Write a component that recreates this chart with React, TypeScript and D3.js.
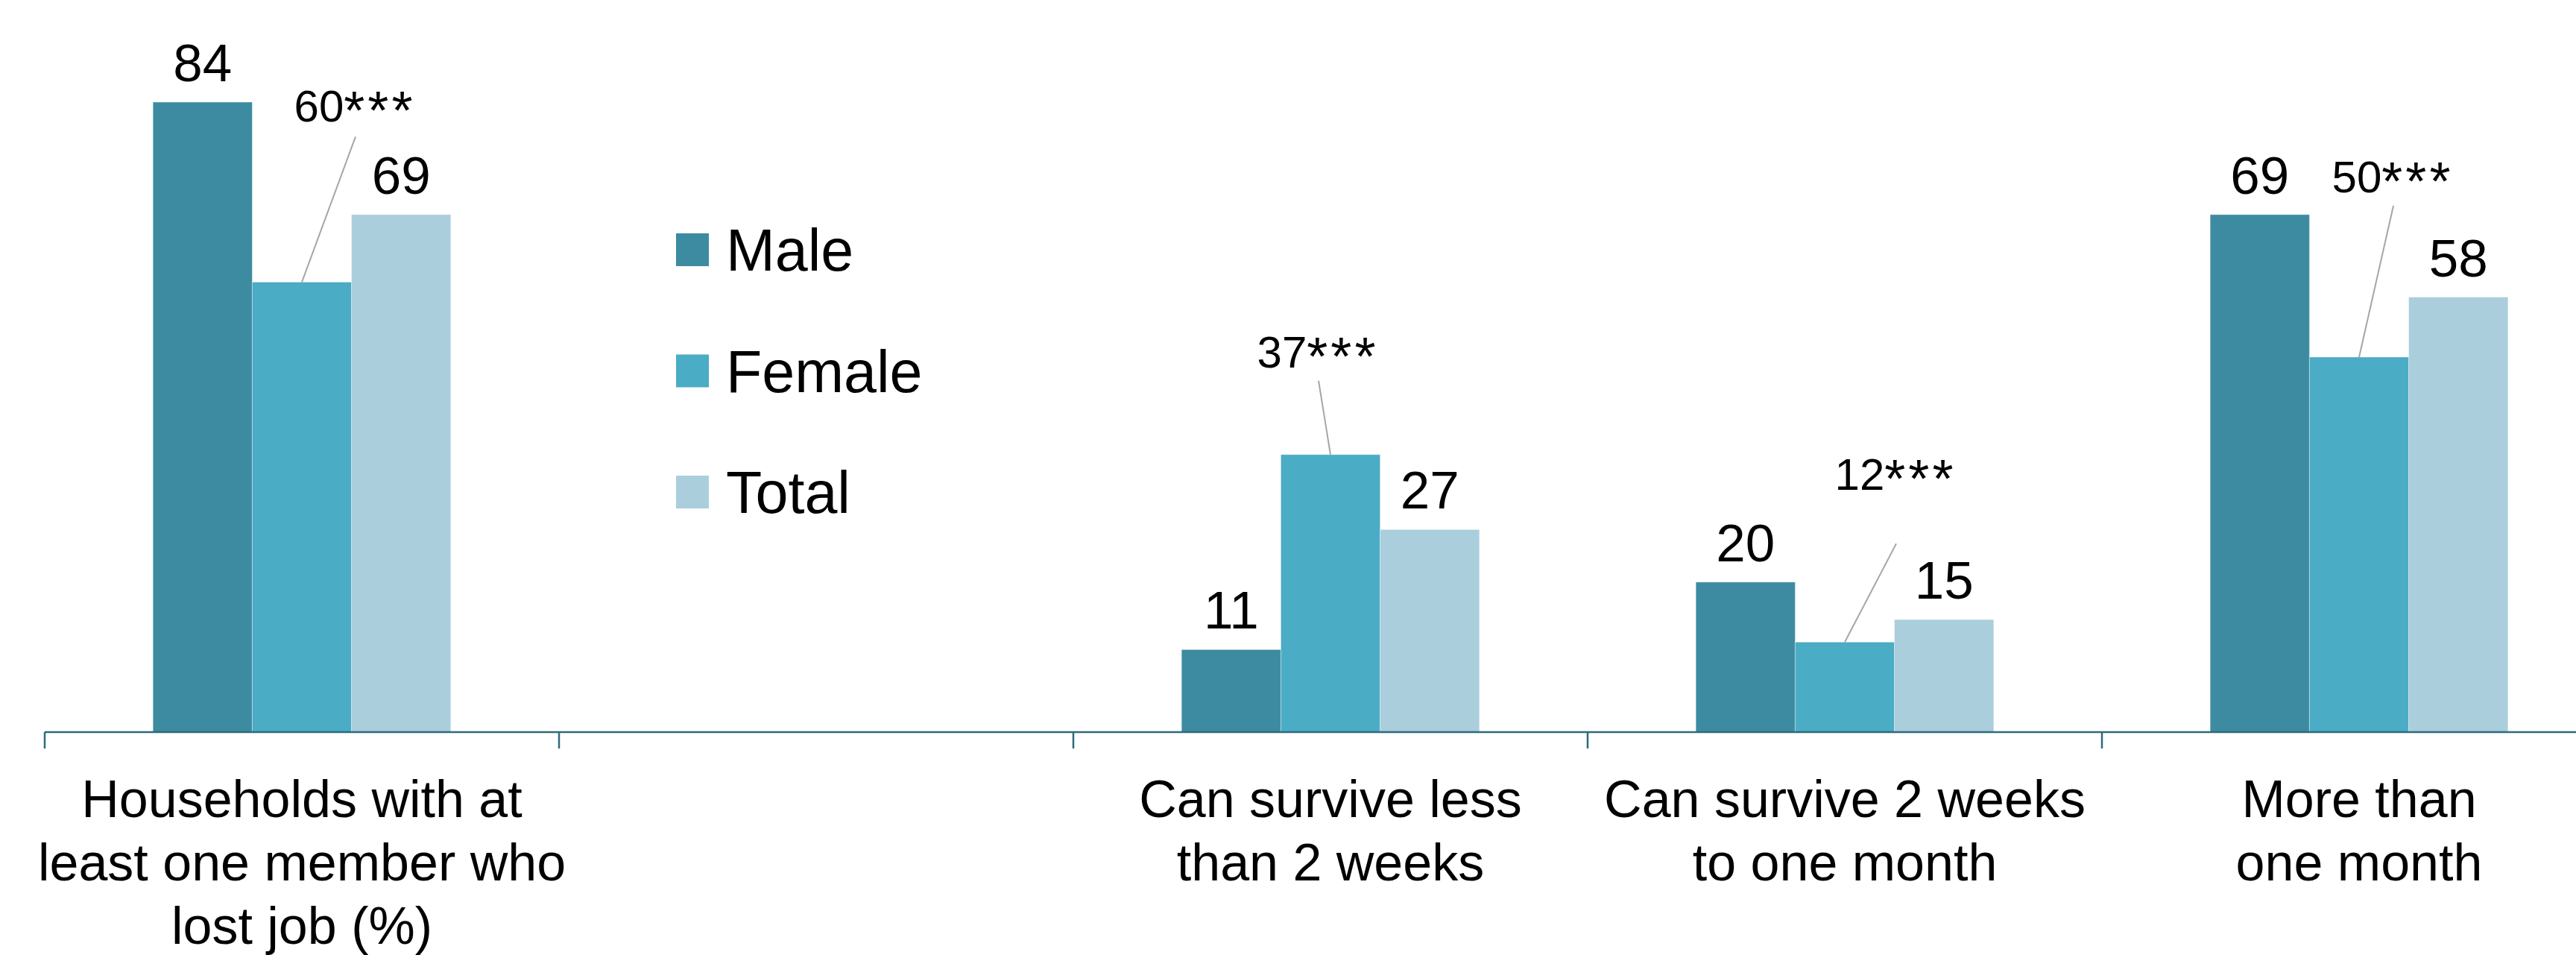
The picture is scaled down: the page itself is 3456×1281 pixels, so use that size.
import * as d3 from "d3";

const categories = ["households", "blank", "lessThan2w", "2wTo1m", "moreThan1m"];
const categoryLabels = [
  ["Households with at", "least one member who", "lost job (%)"],
  [],
  ["Can survive less", "than 2 weeks"],
  ["Can survive 2 weeks", "to one month"],
  ["More than", "one month"],
];
const series = ["Male", "Female", "Total"];
const maleValues = [84, null, 11, 20, 69];
const femaleValues = [60, null, 37, 12, 50];
const totalValues = [69, null, 27, 15, 58];
const femaleMarks = ["***", "", "***", "***", "***"];

const colors = ["#3d8ba1", "#4bacc6", "#aacedc"];

// hand placed callouts for the female labels: label offset from bar top centre, leader start below label
const calloutOffsets = [
  { dx: 71, dy: -215, gap: 20 },
  null,
  { dx: -17, dy: -117, gap: 18 },
  { dx: 68, dy: -204, gap: 72 },
  { dx: 45, dy: -221, gap: 18 },
];

const W = 3456;
const H = 1281;
const baseY = 982;
const font = "'Liberation Sans', Arial, sans-serif";

export default function App() {
  const x = d3.scaleBand<string>().domain(categories).range([60, 3510]);
  const xs = d3
    .scaleBand<string>()
    .domain(series)
    .range([0, x.bandwidth()])
    .paddingOuter(1.09);
  const y = d3.scaleLinear().domain([0, 100]).range([baseY, -24]);

  const valuesBySeries = [maleValues, femaleValues, totalValues];
  const edges = categories.map((c) => x(c)!).concat(x(categories[4])! + x.bandwidth());

  return (
    <svg
      width={W}
      height={H}
      style={{ position: "absolute", left: 0, top: 0, background: "#fff" }}
      fontFamily={font}
    >
      {/* Bars */}
      {series.map((s, si) => (
        <g key={s}>
          {valuesBySeries[si].map((v, ci) =>
            v == null ? null : (
              <rect
                key={ci}
                x={x(categories[ci])! + xs(s)!}
                y={y(v)}
                width={xs.bandwidth()}
                height={baseY - y(v)}
                fill={colors[si]}
                stroke="#ffffff"
                strokeOpacity={0.35}
                strokeWidth={1}
              />
            )
          )}
        </g>
      ))}

      {/* Plain value labels */}
      {[0, 2].map((si) =>
        valuesBySeries[si].map((v, ci) =>
          v == null ? null : (
            <text
              key={`${si}-${ci}`}
              x={x(categories[ci])! + xs(series[si])! + xs.bandwidth() / 2}
              y={y(v) - 28}
              textAnchor="middle"
              fontSize={71}
              fill="#000"
            >
              {v}
            </text>
          )
        )
      )}

      {/* Female callouts */}
      {femaleValues.map((v, ci) => {
        const off = calloutOffsets[ci];
        if (v == null || !off) return null;
        const cx = x(categories[ci])! + xs("Female")! + xs.bandwidth() / 2;
        const top = y(v);
        const lx = cx + off.dx;
        const ly = top + off.dy;
        return (
          <g key={ci}>
            <line
              x1={lx + 1}
              y1={ly + off.gap}
              x2={cx}
              y2={top}
              stroke="#a6a6a6"
              strokeWidth={2}
            />
            <text x={lx} y={ly} textAnchor="middle" fontSize={60} fill="#000">
              <tspan>{v}</tspan>
              <tspan fontSize={72} dy={10} letterSpacing={4}>
                {femaleMarks[ci]}
              </tspan>
            </text>
          </g>
        );
      })}

      {/* Axis */}
      <line x1={60} x2={W} y1={baseY} y2={baseY} stroke="#2f6b7c" strokeWidth={2.5} />
      {edges.map((e, i) => (
        <line key={i} x1={e} x2={e} y1={baseY} y2={baseY + 22} stroke="#2f6b7c" strokeWidth={2.5} />
      ))}
      {categories.map((c, ci) => (
        <text
          key={c}
          x={x(c)! + x.bandwidth() / 2}
          y={1096}
          textAnchor="middle"
          fontSize={70}
          fill="#000"
        >
          {categoryLabels[ci].map((line, li) => (
            <tspan key={li} x={x(c)! + x.bandwidth() / 2} dy={li === 0 ? 0 : 85}>
              {line}
            </tspan>
          ))}
        </text>
      ))}

      {/* Legend */}
      {series.map((s, si) => (
        <g key={s} transform={`translate(907, ${335 + si * 162.5})`}>
          <rect x={0} y={-22} width={44} height={44} fill={colors[si]} />
          <text x={67} y={0} dy="0.36em" fontSize={79} fill="#000">
            {s}
          </text>
        </g>
      ))}
    </svg>
  );
}
